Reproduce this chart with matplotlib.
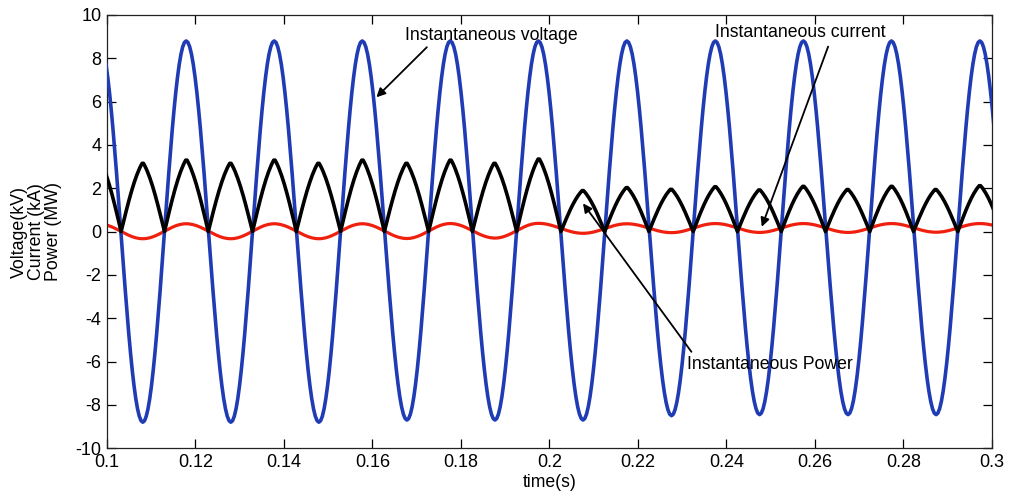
import numpy as np
import matplotlib
matplotlib.use("Agg")
import matplotlib.pyplot as plt

plt.rcParams['font.family'] = ['Liberation Sans', 'DejaVu Sans']
plt.rcParams['axes.unicode_minus'] = False

# Voltage extrema (time in s, value in kV), alternating peak / trough
volt_t = [0.0982, 0.1081, 0.1179, 0.1280, 0.1378, 0.1479, 0.1577, 0.1678,
          0.1776, 0.1877, 0.1975, 0.2076, 0.2175, 0.2276, 0.2375, 0.2475,
          0.2574, 0.2675, 0.2773, 0.2874, 0.2973, 0.3073]
volt_v = [8.8, -8.8, 8.8, -8.8, 8.8, -8.8, 8.8, -8.7,
          8.8, -8.7, 8.8, -8.7, 8.8, -8.5, 8.8, -8.45,
          8.8, -8.45, 8.8, -8.45, 8.8, -8.45]

# Current zero instants (s) and the peak reached in each half cycle (kA)
curr_zero_t = [0.0933, 0.1032, 0.1130, 0.1229, 0.1329, 0.1428, 0.1528, 0.1627,
               0.1727, 0.1826, 0.1926, 0.2026, 0.2125, 0.2225, 0.2325, 0.2425,
               0.2524, 0.2624, 0.2724, 0.2823, 0.2923, 0.3023]
curr_peak = [3.35, 3.2, 3.35, 3.2, 3.35, 3.2, 3.35, 3.2,
             3.35, 3.2, 3.4, 1.92, 2.06, 1.98, 2.1, 1.95,
             2.12, 1.97, 2.12, 1.97, 2.15]

# Power extrema (MW) at the voltage extrema instants
power_v = [0.35, -0.33, 0.36, -0.33, 0.36, -0.33, 0.36, -0.32,
           0.37, -0.30, 0.38, -0.08, 0.36, -0.05, 0.37, -0.04,
           0.37, -0.04, 0.37, -0.03, 0.37, -0.03]

x_ticks = [0.1, 0.12, 0.14, 0.16, 0.18, 0.2, 0.22, 0.24, 0.26, 0.28, 0.3]
x_tick_labels = ['0.1', '0.12', '0.14', '0.16', '0.18', '0.2', '0.22',
                 '0.24', '0.26', '0.28', '0.3']
y_ticks = [-10, -8, -6, -4, -2, 0, 2, 4, 6, 8, 10]


def through_extrema(t_ext, v_ext, step=0.0004):
    """Smooth half-cosine arcs joining successive extrema."""
    ts, vs = [], []
    for k in range(len(t_ext) - 1):
        t0, t1 = t_ext[k], t_ext[k + 1]
        v0, v1 = v_ext[k], v_ext[k + 1]
        n = max(int(round((t1 - t0) / step)), 2)
        u = np.linspace(0, 1, n, endpoint=False)
        ts.append(t0 + u * (t1 - t0))
        vs.append((v0 + v1) / 2 + (v0 - v1) / 2 * np.cos(np.pi * u))
    return np.concatenate(ts), np.concatenate(vs)


def rectified_lobes(t_zero, peaks, step=0.0003):
    """Lobes between successive zero instants: straight flanks, rounded top."""
    ts, vs = [], []
    for k, a in enumerate(peaks):
        t0, t1 = t_zero[k], t_zero[k + 1]
        n = max(int(round((t1 - t0) / step)), 2)
        u = np.linspace(0, 1, n, endpoint=False)
        shape = 0.5 * np.sin(np.pi * u) + 0.5 * (1 - np.abs(2 * u - 1))
        ts.append(t0 + u * (t1 - t0))
        vs.append(a * shape)
    return np.concatenate(ts), np.concatenate(vs)


tv, vv = through_extrema(volt_t, volt_v)
ti, ii = rectified_lobes(curr_zero_t, curr_peak)
tp, pp = through_extrema(volt_t, power_v)

fig = plt.figure(figsize=(10.09, 4.98), dpi=100)
ax = fig.add_axes([0.106, 0.100, 0.877, 0.870])

ax.plot(tv, vv, color='#1f3cb4', lw=2.6, zorder=3)
ax.plot(tp, pp, color='#f0200f', lw=2.3, zorder=2)
ax.plot(ti, ii, color='#000000', lw=2.6, zorder=4)

ax.set_xlim(0.1, 0.3)
ax.set_ylim(-10, 10)
ax.set_xticks(x_ticks)
ax.set_xticklabels(x_tick_labels)
ax.set_yticks(y_ticks)
ax.tick_params(direction='in', length=6.5, width=0.9, top=True, right=True,
               labelsize=13, pad=4)
for s in ax.spines.values():
    s.set_linewidth(0.9)
    s.set_color('#222222')

ax.set_xlabel('time(s)', fontsize=12.7, labelpad=2)
ax.set_ylabel('Voltage(kV)\nCurrent (kA)\nPower (MW)', fontsize=12.8,
              linespacing=1.0, labelpad=10)

arrow = dict(arrowstyle='-|>', color='black', lw=1.3,
             mutation_scale=13, shrinkA=0, shrinkB=0)
ax.annotate('', xy=(0.1609, 6.20), xytext=(0.1723, 8.51), arrowprops=arrow,
            zorder=6)
ax.annotate('', xy=(0.2480, 0.22), xytext=(0.2630, 8.54), arrowprops=arrow,
            zorder=6)
ax.annotate('', xy=(0.2076, 1.30), xytext=(0.2321, -5.55), arrowprops=arrow,
            zorder=6)

ax.text(0.1673, 8.85, 'Instantaneous voltage', fontsize=12.7,
        va='baseline', ha='left', zorder=7)
ax.text(0.2374, 8.97, 'Instantaneous current', fontsize=12.7,
        va='baseline', ha='left', zorder=7)
ax.text(0.2311, -6.35, 'Instantaneous Power', fontsize=12.7,
        va='baseline', ha='left', zorder=7)

fig.savefig('out.png', dpi=100, facecolor='white')
